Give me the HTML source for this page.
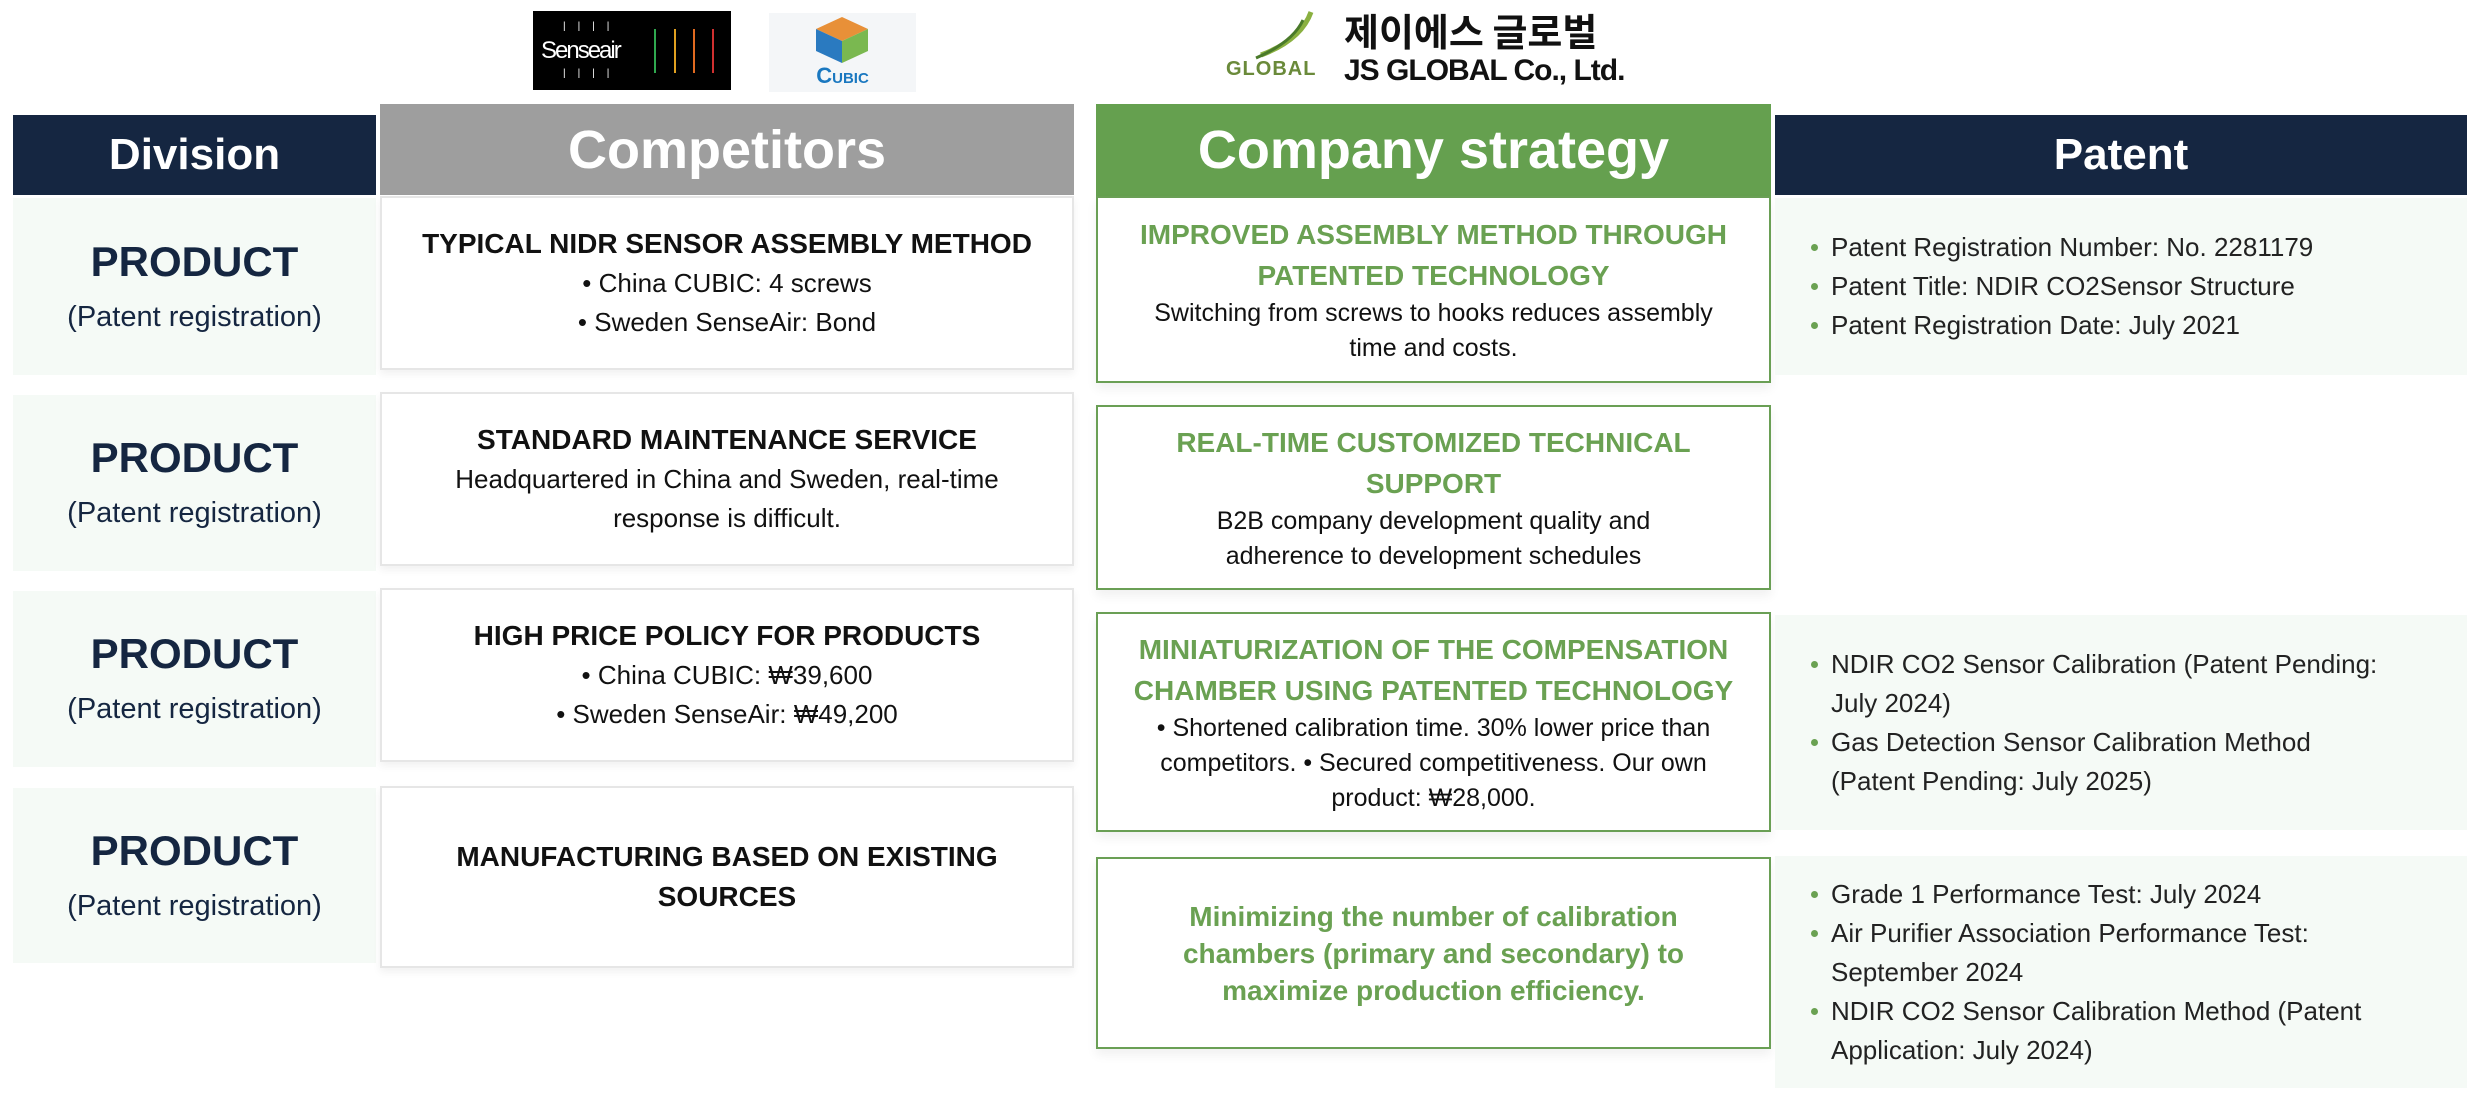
<!DOCTYPE html>
<html><head><meta charset="utf-8"><style>
*{margin:0;padding:0;box-sizing:border-box}
body{width:2480px;height:1102px;background:#fff;font-family:"Liberation Sans","Noto Sans CJK KR",sans-serif;position:relative;overflow:hidden;color:#111}
.a{position:absolute;display:flex;flex-direction:column;justify-content:center;align-items:center;text-align:center}
.hd{color:#fff;font-weight:bold}
.div{background:#f5faf6}
.div b{font-size:42px;color:#152641;line-height:54px}
.div span{font-size:29px;color:#152641;line-height:44px;margin-top:6px}
.cb{background:#fff;border:2px solid #e6e6e6;box-shadow:0 4px 8px rgba(0,0,0,0.06);font-size:26px;line-height:39px;padding:0 20px}
.cb b{font-size:28px;line-height:40px;color:#111}
.sb{background:#fff;border:2px solid #6a9f55;box-shadow:0 6px 10px rgba(0,0,0,0.06);font-size:25px;line-height:35px;padding:0 12px}
.sb b{font-size:28px;line-height:41px;color:#6aa152}
.pb{position:absolute;background:#f5faf6;display:flex;flex-direction:column;justify-content:center;padding-left:56px;font-size:26px;line-height:39px;color:#222}
.pb li{list-style:none;position:relative}
.pb li:before{content:"";position:absolute;left:-20px;top:16px;width:7px;height:7px;border-radius:50%;background:#6aa152}
</style></head><body>
<div style="position:absolute;left:533px;top:11px;width:198px;height:79px;background:#000">
 <div style="position:absolute;left:8px;top:26px;color:#fff;font-size:24px;letter-spacing:-2px">Senseair</div>
 <div style="position:absolute;left:30px;top:10px;color:#fff;font-size:10px;letter-spacing:12px">||||</div>
 <div style="position:absolute;left:30px;top:57px;color:#fff;font-size:10px;letter-spacing:12px">||||</div>
 <div style="position:absolute;left:121px;top:18px;width:2px;height:44px;background:#2fa84f"></div>
 <div style="position:absolute;left:141px;top:18px;width:2px;height:44px;background:#e0a020"></div>
 <div style="position:absolute;left:160px;top:18px;width:2px;height:44px;background:#e06a20"></div>
 <div style="position:absolute;left:179px;top:18px;width:2px;height:44px;background:#d03030"></div>
</div>
<div style="position:absolute;left:769px;top:13px;width:147px;height:79px;background:#f4f6f8">
 <svg width="147" height="79" style="position:absolute;left:0;top:0"><polygon points="73,4 99,16 73,28 47,16" fill="#e89038"/><polygon points="47,16 73,28 73,50 47,38" fill="#2a7ac0"/><polygon points="99,16 73,28 73,50 99,38" fill="#7ab850"/></svg>
 <div style="position:absolute;left:0;width:147px;top:50px;text-align:center;color:#1a78c0;font-weight:bold;font-size:22px">C<span style="font-size:15px">UBIC</span></div>
</div>
<div style="position:absolute;left:1226px;top:8px;width:400px;height:80px">
 <svg width="70" height="50" style="position:absolute;left:25px;top:2px"><path d="M60 2 Q50 30 10 45" stroke="#8ab040" stroke-width="5" fill="none"/><path d="M52 10 Q42 32 5 48" stroke="#4a7a2a" stroke-width="3" fill="none"/></svg>
 <div style="position:absolute;left:0;top:50px;color:#6a8a3a;font-size:20px;font-weight:bold;letter-spacing:1px">GLOBAL</div>
 <div style="position:absolute;left:118px;top:0;font-size:38px;font-weight:bold;color:#111;font-family:'Noto Sans CJK KR',sans-serif;line-height:44px">제이에스 글로벌</div>
 <div style="position:absolute;left:118px;top:46px;font-size:30px;font-weight:bold;color:#111;letter-spacing:-1px">JS GLOBAL Co., Ltd.</div>
</div>
<div class="a hd" style="left:13px;top:115px;width:363px;height:80px;background:#152641;font-size:44px">Division</div>
<div class="a hd" style="left:380px;top:104px;width:694px;height:91px;background:#9e9e9e;font-size:54px">Competitors</div>
<div class="a hd" style="left:1096px;top:104px;width:675px;height:92px;background:#65a04f;font-size:54px">Company strategy</div>
<div class="a hd" style="left:1775px;top:115px;width:692px;height:80px;background:#152641;font-size:44px">Patent</div>
<div class="a div" style="left:13px;top:198px;width:363px;height:177px"><b>PRODUCT</b><span>(Patent registration)</span></div>
<div class="a div" style="left:13px;top:395px;width:363px;height:176px"><b>PRODUCT</b><span>(Patent registration)</span></div>
<div class="a div" style="left:13px;top:591px;width:363px;height:176px"><b>PRODUCT</b><span>(Patent registration)</span></div>
<div class="a div" style="left:13px;top:788px;width:363px;height:175px"><b>PRODUCT</b><span>(Patent registration)</span></div>
<div class="a cb" style="left:380px;top:196px;width:694px;height:174px"><b>TYPICAL NIDR SENSOR ASSEMBLY METHOD</b>• China CUBIC: 4 screws<br>• Sweden SenseAir: Bond</div>
<div class="a cb" style="left:380px;top:392px;width:694px;height:174px"><b>STANDARD MAINTENANCE SERVICE</b>Headquartered in China and Sweden, real-time<br>response is difficult.</div>
<div class="a cb" style="left:380px;top:588px;width:694px;height:174px"><b>HIGH PRICE POLICY FOR PRODUCTS</b>• China CUBIC: ₩39,600<br>• Sweden SenseAir: ₩49,200</div>
<div class="a cb" style="left:380px;top:786px;width:694px;height:182px"><b>MANUFACTURING BASED ON EXISTING<br>SOURCES</b></div>
<div class="a sb" style="left:1096px;top:196px;width:675px;height:187px"><b>IMPROVED ASSEMBLY METHOD THROUGH<br>PATENTED TECHNOLOGY</b>Switching from screws to hooks reduces assembly<br>time and costs.</div>
<div class="a sb" style="left:1096px;top:405px;width:675px;height:185px"><b>REAL-TIME CUSTOMIZED TECHNICAL<br>SUPPORT</b>B2B company development quality and<br>adherence to development schedules</div>
<div class="a sb" style="left:1096px;top:612px;width:675px;height:220px"><b>MINIATURIZATION OF THE COMPENSATION<br>CHAMBER USING PATENTED TECHNOLOGY</b>• Shortened calibration time. 30% lower price than<br>competitors. • Secured competitiveness. Our own<br>product: ₩28,000.</div>
<div class="a sb" style="left:1096px;top:857px;width:675px;height:192px"><b style="font-size:28px;line-height:37px">Minimizing the number of calibration<br>chambers (primary and secondary) to<br>maximize production efficiency.</b></div>
<div class="pb" style="left:1775px;top:198px;width:692px;height:177px"><ul><li>Patent Registration Number: No. 2281179</li><li>Patent Title: NDIR CO2Sensor Structure</li><li>Patent Registration Date: July 2021</li></ul></div>
<div class="pb" style="left:1775px;top:615px;width:692px;height:215px"><ul><li>NDIR CO2 Sensor Calibration (Patent Pending:<br>July 2024)</li><li>Gas Detection Sensor Calibration Method<br>(Patent Pending: July 2025)</li></ul></div>
<div class="pb" style="left:1775px;top:856px;width:692px;height:232px"><ul><li>Grade 1 Performance Test: July 2024</li><li>Air Purifier Association Performance Test:<br>September 2024</li><li>NDIR CO2 Sensor Calibration Method (Patent<br>Application: July 2024)</li></ul></div>
</body></html>
